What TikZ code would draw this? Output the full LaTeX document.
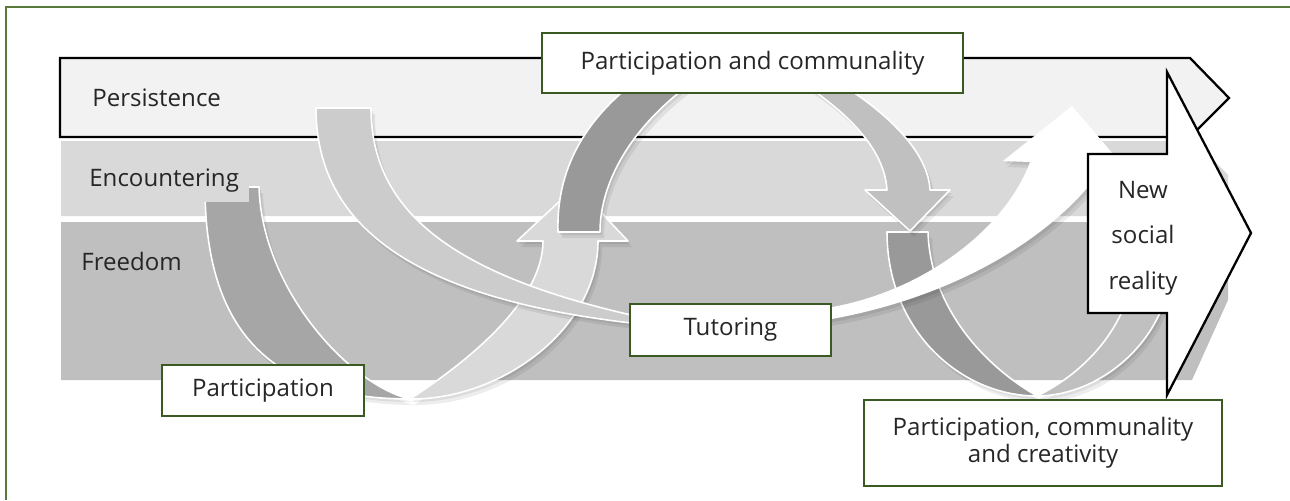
\documentclass[tikz,border=0pt]{standalone}
\usepackage{fontspec}
\setmainfont{Open Sans}
\definecolor{frame}{HTML}{5A7A3C}
\definecolor{boxgreen}{HTML}{3B5A22}
\definecolor{txt}{HTML}{262626}
\definecolor{persist}{HTML}{F2F2F2}
\definecolor{encount}{HTML}{D9D9D9}
\definecolor{freedom}{HTML}{BFBFBF}
\definecolor{adark}{HTML}{A6A6A6}
\definecolor{alight}{HTML}{D9D9D9}
\definecolor{taper}{HTML}{CCCCCC}
\definecolor{bdark}{HTML}{999999}
\definecolor{blight}{HTML}{C0C0C0}
\newcommand\fsz{\fontsize{13.7}{16}\selectfont}
\tikzset{
  piece/.style={draw=white, line width=0.9pt, line join=round},
  shadA/.style={fill=black, fill opacity=0.07, draw=none, shift={(2,3)}},
  shadB/.style={fill=black, fill opacity=0.07, draw=none, shift={(4,6)}},
  gbox/.style={draw=boxgreen, line width=1.2pt, fill=white, inner sep=0pt, text=txt, font=\fsz, align=center},
  lbl/.style={anchor=west, inner sep=0pt, text=txt, font=\fsz},
}
\def\pAdark{(205,187) .. controls (205,330) and (270,399) .. (410,399) .. controls (350,385) and (262,290) .. (259,187) -- cycle}
\def\pAlight{(410,399) .. controls (500,400) and (598,330) .. (598,241) -- (628,241) -- (576,186) -- (517,241) -- (543,241) .. controls (543,300) and (470,360) .. (410,399) -- cycle}
\def\pTaper{(316,108) .. controls (316,230) and (420,300) .. (640,324) -- (640,317) .. controls (450,275) and (371,210) .. (371,108) -- cycle}
\def\pBdark{(558,232) .. controls (556,170) and (585,118) .. (640,78) -- (700,68) -- (690,84) .. controls (628,130) and (600,185) .. (600,232) -- cycle}
\def\pBlight{(830,78) .. controls (870,100) and (928,145) .. (930,190) -- (950,190) -- (910,231) -- (865,190) -- (887,190) .. controls (884,140) and (830,100) .. (790,75) -- cycle}
\def\pCdark{(887,232) .. controls (887,330) and (960,396) .. (1037,396) .. controls (975,360) and (930,300) .. (928,232) -- cycle}
\def\pClight{(1037,396) .. controls (1100,396) and (1170,340) .. (1172,260) -- (1135,260) .. controls (1130,330) and (1080,375) .. (1037,396) -- cycle}
\def\pWhite{(820,309) .. controls (920,295) and (1005,230) .. (1030,162) -- (1003,161) -- (1072,106) -- (1125,168) -- (1100,172) .. controls (1050,240) and (950,300) .. (820,321) -- cycle}
\begin{document}
\begin{tikzpicture}[x=0.02cm,y=-0.02cm]
\useasboundingbox (0,0) rectangle (1290,500);
% frame
\draw[frame, line width=0.8pt] (6,500) -- (6,7) -- (1290,7);
% bands
\draw[fill=persist, draw=black, line width=1.3pt] (60,58) -- (1190,58) -- (1229,98) -- (1190,137) -- (60,137) -- cycle;
\fill[encount] (61,141) -- (1195,141) -- (1228,175) -- (1228,216) -- (61,216) -- cycle;
\fill[freedom] (61,222) -- (1228,222) -- (1228,300) -- (1192,380) -- (61,380) -- cycle;
% loop A dark
\fill[shadA] \pAdark; \fill[shadB] \pAdark;
\path[piece, fill=adark] \pAdark;
% labels
\fill[encount] (85,150) rectangle (249,202);
\node[lbl] (lp) at (92,98) {Persistence};
\node[lbl] (le) at (89,181) {Encountering};
\node[lbl] (lf) at (81,261) {Freedom};
% loop A light
\fill[shadA] \pAlight; \fill[shadB] \pAlight;
\path[piece, fill=alight] \pAlight;
% taper
\fill[shadA] \pTaper; \fill[shadB] \pTaper;
\path[piece, fill=taper] \pTaper;
% arc B dark
\fill[shadA] \pBdark; \fill[shadB] \pBdark;
\path[piece, fill=bdark] \pBdark;
% loop C dark
\fill[shadA] \pCdark; \fill[shadB] \pCdark;
\path[piece, fill=bdark] \pCdark;
% arc B light
\fill[shadA] \pBlight; \fill[shadB] \pBlight;
\path[piece, fill=blight] \pBlight;
% loop C light
\fill[shadA] \pClight; \fill[shadB] \pClight;
\path[piece, fill=blight] \pClight;
% white arrow
\fill[shadA] \pWhite; \fill[shadB] \pWhite;
\path[fill=white] \pWhite;
% big arrow
\draw[fill=white, draw=black, line width=1.3pt, line join=miter] (1088,154) -- (1167,154) -- (1167,72) -- (1251,233) -- (1167,395) -- (1167,313) -- (1088,313) -- cycle;
\node[inner sep=0pt, text=txt, font=\fontsize{13.7}{26}\selectfont, align=center] (nsr) at (1143,238) {New\\social\\reality};
% boxes
\node[gbox, minimum width=8.42cm, minimum height=1.2cm] (pc) at (752.5,63) {Participation and communality};
\node[gbox, minimum width=4.04cm, minimum height=1.02cm] (pa) at (263,390.5) {Participation};
\node[gbox, minimum width=4.02cm, minimum height=1.04cm] (tu) at (730.5,330) {Tutoring};
\node[gbox, minimum width=7.16cm, minimum height=1.72cm, font=\fontsize{13.7}{15.3}\selectfont] (pcc) at (1043,443) {\raisebox{0pt}[0pt][0pt]{}Participation, communality\\and creativity};
\end{tikzpicture}
\end{document}
